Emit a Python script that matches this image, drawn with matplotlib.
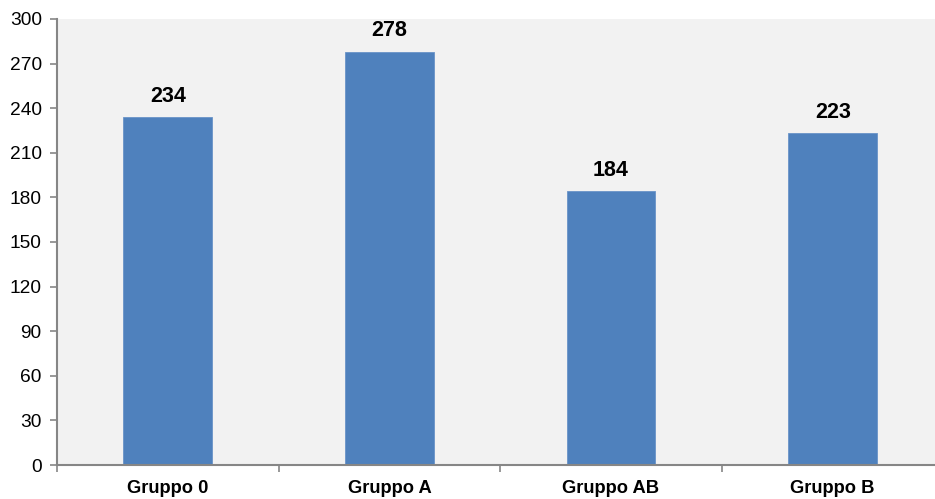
import matplotlib
matplotlib.use("Agg")
import matplotlib.pyplot as plt
import numpy as np

categories = ["Gruppo 0", "Gruppo A", "Gruppo AB", "Gruppo B"]
values = [234, 278, 184, 223]
yticks = [0, 30, 60, 90, 120, 150, 180, 210, 240, 270, 300]

plt.rcParams["font.family"] = ["Liberation Sans", "DejaVu Sans"]

W, H = 935, 499
fig = plt.figure(figsize=(W / 100, H / 100), dpi=100)
left, right, top, bottom = 57, 943.5, 19, 465
ax = fig.add_axes([left / W, (H - bottom) / H, (right - left) / W, (bottom - top) / H])
ax.set_facecolor("#f2f2f2")

x = np.arange(len(categories))
ax.bar(x, values, width=0.40, color="#4f81bd", edgecolor="#6a93c8", linewidth=0.6, zorder=2)

for xi, v in zip(x, values):
    ax.annotate(str(v), (xi, v), xytext=(0, 7.5), textcoords="offset points",
                ha="center", va="bottom", fontsize=15.5, fontweight="bold", color="black")

ax.set_xlim(-0.5, len(categories) - 0.5)
ax.set_ylim(0, 300)
ax.set_yticks(yticks)
ax.set_yticklabels([str(t) for t in yticks], fontsize=13.8)

# category labels centered, tick marks at category boundaries
ax.set_xticks(x)
ax.set_xticklabels(categories, fontsize=13.2, fontweight="bold")
ax.tick_params(axis="x", which="major", length=0, pad=11)
ax.set_xticks(np.arange(-0.5, len(categories) + 0.5, 1), minor=True)
ax.tick_params(axis="x", which="minor", length=5, width=1.2, color="#868686", direction="out")
ax.tick_params(axis="y", length=5, width=1.2, color="#868686", direction="out", pad=6)

for s in ["top", "right"]:
    ax.spines[s].set_visible(False)
for s in ["left", "bottom"]:
    ax.spines[s].set_color("#868686")
    ax.spines[s].set_linewidth(1.5)

fig.savefig("out.png", dpi=100, facecolor="white")
